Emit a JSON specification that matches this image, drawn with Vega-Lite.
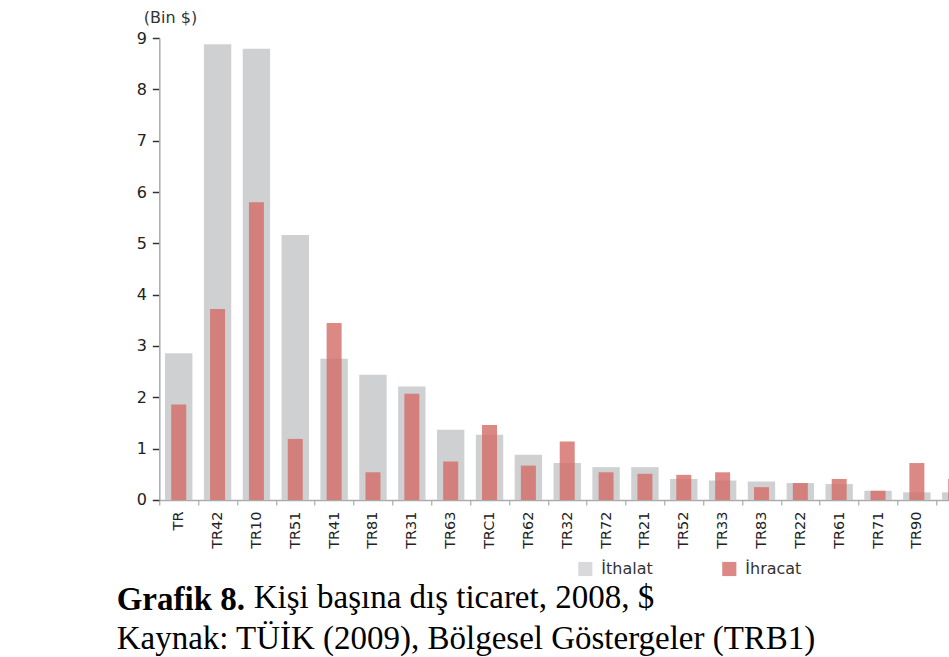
{
  "$schema": "https://vega.github.io/schema/vega-lite/v6.json",
  "autosize": {"type": "none"},
  "width": 790,
  "height": 462,
  "padding": {"left": 159.3, "top": 38, "right": 0, "bottom": 157},
  "background": "white",
  "config": {"view": {"stroke": null}},
  "title": {
    "text": "Grafik 8.",
    "subtitle": "Kaynak: TÜİK (2009), Bölgesel Göstergeler (TRB1)",
    "orient": "bottom",
    "anchor": "start",
    "frame": "group",
    "dx": -42.6,
    "dy": -35,
    "font": "Liberation Serif",
    "fontSize": 33,
    "fontWeight": "bold",
    "color": "#000000",
    "subtitleFont": "Liberation Serif",
    "subtitleFontSize": 33,
    "subtitleFontWeight": "normal",
    "subtitleColor": "#000000",
    "subtitlePadding": 6
  },
  "data": {
    "values": [
      {"bolge": "TR", "seri": "İthalat", "deger": 2.86},
      {"bolge": "TR42", "seri": "İthalat", "deger": 8.88},
      {"bolge": "TR10", "seri": "İthalat", "deger": 8.79},
      {"bolge": "TR51", "seri": "İthalat", "deger": 5.16},
      {"bolge": "TR41", "seri": "İthalat", "deger": 2.75},
      {"bolge": "TR81", "seri": "İthalat", "deger": 2.44},
      {"bolge": "TR31", "seri": "İthalat", "deger": 2.21},
      {"bolge": "TR63", "seri": "İthalat", "deger": 1.37},
      {"bolge": "TRC1", "seri": "İthalat", "deger": 1.27},
      {"bolge": "TR62", "seri": "İthalat", "deger": 0.88},
      {"bolge": "TR32", "seri": "İthalat", "deger": 0.72},
      {"bolge": "TR72", "seri": "İthalat", "deger": 0.64},
      {"bolge": "TR21", "seri": "İthalat", "deger": 0.64},
      {"bolge": "TR52", "seri": "İthalat", "deger": 0.41},
      {"bolge": "TR33", "seri": "İthalat", "deger": 0.38},
      {"bolge": "TR83", "seri": "İthalat", "deger": 0.36},
      {"bolge": "TR22", "seri": "İthalat", "deger": 0.33},
      {"bolge": "TR61", "seri": "İthalat", "deger": 0.31},
      {"bolge": "TR71", "seri": "İthalat", "deger": 0.18},
      {"bolge": "TR90", "seri": "İthalat", "deger": 0.15},
      {"bolge": "TR82", "seri": "İthalat", "deger": 0.15},
      {"bolge": "TR", "seri": "İhracat", "deger": 1.86},
      {"bolge": "TR42", "seri": "İhracat", "deger": 3.72},
      {"bolge": "TR10", "seri": "İhracat", "deger": 5.8},
      {"bolge": "TR51", "seri": "İhracat", "deger": 1.19},
      {"bolge": "TR41", "seri": "İhracat", "deger": 3.45},
      {"bolge": "TR81", "seri": "İhracat", "deger": 0.54},
      {"bolge": "TR31", "seri": "İhracat", "deger": 2.07},
      {"bolge": "TR63", "seri": "İhracat", "deger": 0.75},
      {"bolge": "TRC1", "seri": "İhracat", "deger": 1.46},
      {"bolge": "TR62", "seri": "İhracat", "deger": 0.67},
      {"bolge": "TR32", "seri": "İhracat", "deger": 1.14},
      {"bolge": "TR72", "seri": "İhracat", "deger": 0.54},
      {"bolge": "TR21", "seri": "İhracat", "deger": 0.51},
      {"bolge": "TR52", "seri": "İhracat", "deger": 0.49},
      {"bolge": "TR33", "seri": "İhracat", "deger": 0.54},
      {"bolge": "TR83", "seri": "İhracat", "deger": 0.25},
      {"bolge": "TR22", "seri": "İhracat", "deger": 0.33},
      {"bolge": "TR61", "seri": "İhracat", "deger": 0.41},
      {"bolge": "TR71", "seri": "İhracat", "deger": 0.18},
      {"bolge": "TR90", "seri": "İhracat", "deger": 0.72},
      {"bolge": "TR82", "seri": "İhracat", "deger": 0.41}
    ]
  },
  "encoding": {
    "x": {
      "field": "bolge",
      "type": "nominal",
      "scale": {
        "domain": ["TR","TR42","TR10","TR51","TR41","TR81","TR31","TR63","TRC1","TR62","TR32","TR72","TR21","TR52","TR33","TR83","TR22","TR61","TR71","TR90","TR82"],
        "range": [0, 815.85],
        "paddingInner": 0,
        "paddingOuter": 0
      },
      "axis": {
        "title": "Kişi başına dış ticaret, 2008, $",
        "titleFont": "Liberation Serif",
        "titleFontSize": 33,
        "titleFontWeight": "normal",
        "titleColor": "#000000",
        "titleAlign": "left",
        "titleBaseline": "alphabetic",
        "titleAnchor": null,
        "titleX": 94,
        "titleY": 108,
        "labelAngle": -90,
        "labelFont": "DejaVu Sans",
        "labelFontSize": 14.5,
        "labelColor": "#222222",
        "labelPadding": 6,
        "tickBand": "extent",
        "tickSize": 5,
        "tickColor": "#999999",
        "domainColor": "#aaaaaa",
        "domainWidth": 1.5
      }
    },
    "y": {
      "field": "deger",
      "type": "quantitative",
      "scale": {"domain": [0, 9], "nice": false},
      "axis": {
        "title": "(Bin $)",
        "titleAngle": 0,
        "titleAlign": "center",
        "titleBaseline": "middle",
        "titleX": 10.7,
        "titleY": -20.5,
        "titleFont": "DejaVu Sans",
        "titleFontSize": 16,
        "titleFontWeight": "normal",
        "titleColor": "#333333",
        "values": [0,1,2,3,4,5,6,7,8,9],
        "grid": false,
        "labelFont": "DejaVu Sans",
        "labelFontSize": 16,
        "labelColor": "#222222",
        "labelPadding": 6,
        "tickSize": 7,
        "tickColor": "#333333",
        "tickWidth": 1.5,
        "domainColor": "#aaaaaa",
        "domainWidth": 1.5
      }
    },
    "color": {
      "field": "seri",
      "type": "nominal",
      "scale": {"domain": ["İthalat", "İhracat"], "range": ["#cfd0d2", "#d36b66"]},
      "legend": {
        "title": null,
        "orient": "none",
        "direction": "horizontal",
        "legendX": 418,
        "legendY": 523,
        "symbolType": "square",
        "symbolSize": 200,
        "symbolStrokeWidth": 0,
        "symbolOpacity": 0.8,
        "labelFont": "DejaVu Sans",
        "labelFontSize": 16,
        "labelColor": "#333333",
        "labelOffset": 8,
        "columnPadding": 68
      }
    }
  },
  "layer": [
    {
      "transform": [{"filter": "datum.seri === 'İthalat'"}],
      "mark": {"type": "bar", "width": {"band": 0.705}, "opacity": 1}
    },
    {
      "transform": [{"filter": "datum.seri === 'İhracat'"}],
      "mark": {"type": "bar", "width": {"band": 0.386}, "opacity": 0.8}
    }
  ]
}
